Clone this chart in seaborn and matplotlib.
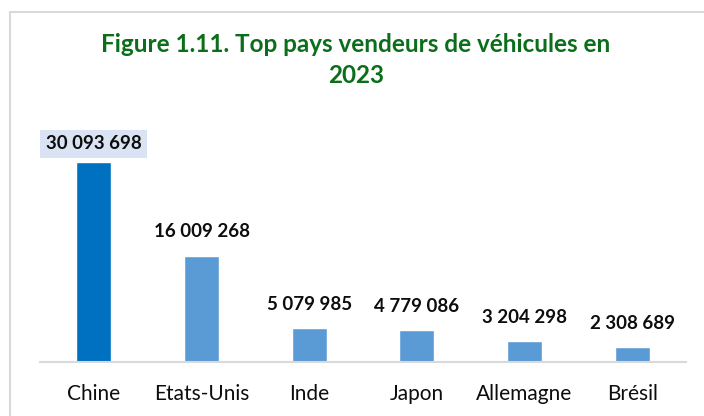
import matplotlib
matplotlib.use("Agg")
import matplotlib.pyplot as plt
from matplotlib.lines import Line2D
import seaborn as sns
import pandas as pd

countries = ["Chine", "Etats-Unis", "Inde", "Japon", "Allemagne", "Brésil"]
sales = [30093698, 16009268, 5079985, 4779086, 3204298, 2308689]
labels = ["30 093 698", "16 009 268", "5 079 985", "4 779 086", "3 204 298", "2 308 689"]
bar_colors = ["#0070C0", "#5B9BD5", "#5B9BD5", "#5B9BD5", "#5B9BD5", "#5B9BD5"]

sns.set_style("white")
plt.rcParams["font.family"] = ["Lato", "DejaVu Sans"]

df = pd.DataFrame({"pays": countries, "ventes": sales})

fig = plt.figure(figsize=(7.04, 4.16), dpi=100)
ax = fig.add_axes([40 / 704, 1 - 362 / 416, 646 / 704, 262 / 416])

sns.barplot(data=df, x="pays", y="ventes", hue="pays", palette=bar_colors,
            legend=False, width=0.325, saturation=1, ax=ax)

ax.set_ylim(0, 39.4e6)
ax.set_xlim(-0.5, 5.5)
for s in ["top", "right", "left"]:
    ax.spines[s].set_visible(False)
ax.spines["bottom"].set_color("#D9D9D9")
ax.spines["bottom"].set_linewidth(1.5)
ax.set_yticks([])
ax.set_xlabel("")
ax.set_ylabel("")
ax.tick_params(axis="x", length=0, pad=16, labelsize=15, labelcolor="#0d0d0d")

for i, (v, lab) in enumerate(zip(sales, labels)):
    if i == 0:
        ax.annotate(lab, (i, v), xytext=(0, 13), textcoords="offset points",
                    ha="center", va="center", fontsize=13.5, fontweight="bold",
                    color="#0d0d0d",
                    bbox=dict(boxstyle="square,pad=0.3", fc="#DAE3F3", ec="none"))
    else:
        ax.annotate(lab, (i, v), xytext=(0, 17), textcoords="offset points",
                    ha="center", va="center", fontsize=13.5, fontweight="bold",
                    color="#0d0d0d")

fig.text(356 / 704, 1 - 60 / 416, "Figure 1.11. Top pays vendeurs de véhicules en\n2023",
         ha="center", va="center", fontsize=17.5, fontweight="bold",
         color="#0B6E1A", linespacing=1.47)

# chart frame
fig.add_artist(Line2D([10 / 704, 10 / 704], [0, 1 - 12 / 416], transform=fig.transFigure,
                      color="#D9D9D9", lw=1.5))
fig.add_artist(Line2D([10 / 704, 1], [1 - 12 / 416, 1 - 12 / 416], transform=fig.transFigure,
                      color="#D9D9D9", lw=1.5))

fig.savefig("out.png", dpi=100)
